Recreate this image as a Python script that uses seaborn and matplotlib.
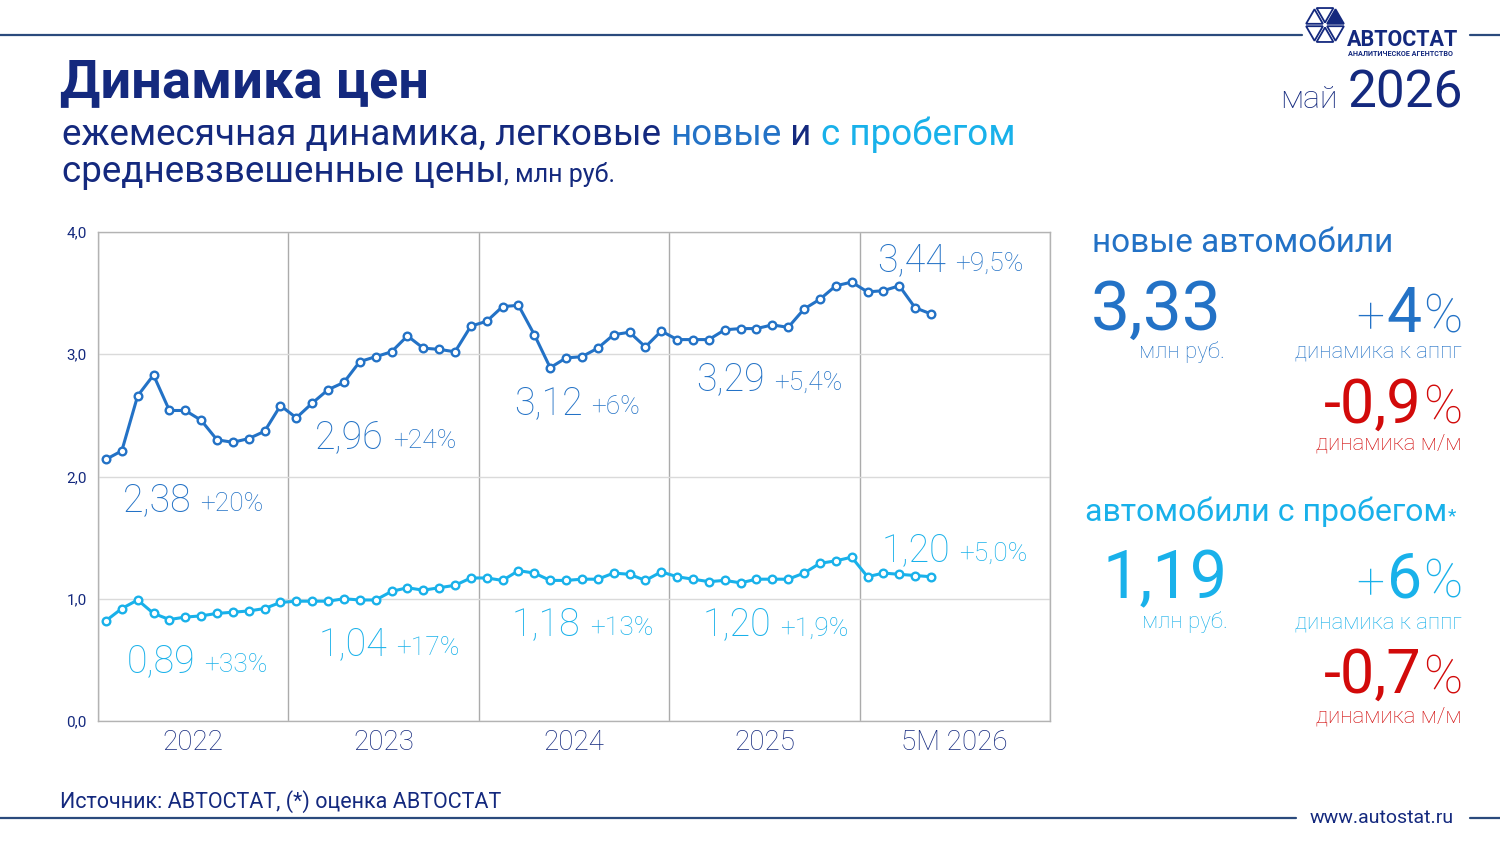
import numpy as np
import pandas as pd
import seaborn as sns
import matplotlib.pyplot as plt
from matplotlib.lines import Line2D
from matplotlib.patches import Polygon

# Data (monthly weighted average prices, mln rub)
years = ['2022', '2023', '2024', '2025', '5M 2026']
new_prices = [2.14, 2.21, 2.66, 2.83, 2.54, 2.54, 2.46, 2.30, 2.28, 2.31, 2.37, 2.58,
              2.48, 2.60, 2.71, 2.77, 2.94, 2.98, 3.02, 3.15, 3.05, 3.04, 3.02, 3.23,
              3.27, 3.39, 3.40, 3.16, 2.89, 2.97, 2.98, 3.05, 3.16, 3.18, 3.06, 3.19,
              3.12, 3.12, 3.12, 3.20, 3.21, 3.21, 3.24, 3.22, 3.37, 3.45, 3.56, 3.59,
              3.51, 3.52, 3.56, 3.38, 3.33]
used_prices = [0.82, 0.92, 0.99, 0.88, 0.83, 0.85, 0.86, 0.88, 0.89, 0.90, 0.92, 0.97,
               0.98, 0.98, 0.98, 1.00, 0.99, 0.99, 1.06, 1.09, 1.07, 1.09, 1.11, 1.17,
               1.17, 1.15, 1.23, 1.21, 1.15, 1.15, 1.16, 1.16, 1.21, 1.20, 1.15, 1.22,
               1.18, 1.16, 1.14, 1.15, 1.13, 1.16, 1.16, 1.16, 1.21, 1.29, 1.31, 1.34,
               1.18, 1.21, 1.20, 1.19, 1.18]
new_avg = ['2,38', '2,96', '3,12', '3,29', '3,44']
new_yoy = ['+20%', '+24%', '+6%', '+5,4%', '+9,5%']
used_avg = ['0,89', '1,04', '1,18', '1,20', '1,20']
used_yoy = ['+33%', '+17%', '+13%', '+1,9%', '+5,0%']
y_ticks = [0, 1, 2, 3, 4]
y_tick_labels = ['0,0', '1,0', '2,0', '3,0', '4,0']

# label anchors (data coords)
new_lab_pos = [(1.07, 1.72), (13.2, 2.23), (25.7, 2.51), (37.2, 2.71), (48.6, 3.68)]
used_lab_pos = [(1.3, 0.40), (13.4, 0.54), (25.6, 0.70), (37.6, 0.70), (48.9, 1.31)]

NAVY = '#14297e'
NEW = '#2372c6'
USED = '#19b1ea'
RED = '#d20a0a'
RULE = '#2b4a7d'

W, H = 1500, 843

df = pd.DataFrame({
    'month': np.arange(len(new_prices)),
    'new': new_prices,
    'used': used_prices,
})

sns.set_theme(style='white')
plt.rcParams['font.family'] = ['Roboto', 'DejaVu Sans']

fig = plt.figure(figsize=(15, 8.43), dpi=100)
ax = fig.add_axes([98 / W, 122 / H, 952 / W, 489 / H])

for col, c in [('new', NEW), ('used', USED)]:
    sns.lineplot(data=df, x='month', y=col, ax=ax, color=c, linewidth=2.2,
                 marker='o', markersize=5.5, markerfacecolor='white',
                 markeredgecolor=c, markeredgewidth=1.7)

ax.set_xlim(-0.5, 59.5)
ax.set_ylim(0, 4)
ax.set_xlabel('')
ax.set_ylabel('')
ax.set_yticks(y_ticks, y_tick_labels, fontsize=11, color=NAVY)
ax.set_xticks([5.5 + 12 * i for i in range(len(years))], years, fontsize=20,
              color=NAVY, fontweight='light')
ax.set_xticks([-0.5 + 12 * i for i in range(len(years) + 1)], minor=True)
ax.grid(axis='y', which='major', color='#dadada', lw=1)
ax.grid(axis='x', which='major', visible=False)
ax.grid(axis='x', which='minor', color='#ababab', lw=1)
ax.tick_params(axis='both', which='both', length=0)
ax.tick_params(axis='y', pad=8)
ax.tick_params(axis='x', pad=6)
for s in ax.spines.values():
    s.set_color('#b3b3b3')
    s.set_linewidth(1)

renderer = fig.canvas.get_renderer()


def put_parts(x, y, parts, ha='left'):
    # x, y: pixels from top-left; parts: (text, size, color, weight, gap)
    items = []
    total = 0
    for s, size, color, weight, gap in parts:
        t = fig.text(0, 0, s, fontsize=size, color=color, fontweight=weight,
                     va='baseline', ha='left')
        w = t.get_window_extent(renderer).width
        items.append((t, total))
        total += w + gap
    total -= parts[-1][4]
    start = x if ha == 'left' else x - total
    for t, off in items:
        t.set_position(((start + off) / W, 1 - y / H))


def data_px(xd, yd):
    px, py = ax.transData.transform((xd, yd))
    return px, H - py


# chart annotations
for (xd, yd), a, b in zip(new_lab_pos, new_avg, new_yoy):
    px, py = data_px(xd, yd)
    put_parts(px, py, [(a, 27, NEW, 'light', 9), (b, 19, NEW, 'light', 0)])
for (xd, yd), a, b in zip(used_lab_pos, used_avg, used_yoy):
    px, py = data_px(xd, yd)
    put_parts(px, py, [(a, 27, USED, 'light', 9), (b, 19, USED, 'light', 0)])

# title block
put_parts(60, 97, [('Динамика цен', 39, NAVY, 'bold', 0)])
put_parts(62, 145, [('ежемесячная динамика, легковые ', 26.5, NAVY, 'normal', 0),
                    ('новые', 26.5, NEW, 'normal', 0),
                    (' и ', 26.5, NAVY, 'normal', 0),
                    ('с пробегом', 26.5, USED, 'normal', 0)])
put_parts(62, 182, [('средневзвешенные цены', 26.5, NAVY, 'normal', 0),
                    (', млн руб.', 18, NAVY, 'normal', 0)])
put_parts(1463, 108, [('май', 23, NAVY, 'light', 10), ('2026', 37, NAVY, 'normal', 0)],
          ha='right')

# right panel: new cars
put_parts(1092, 252, [('новые автомобили', 24, NEW, 'normal', 0)])
put_parts(1222, 330, [('3,33', 50, NEW, 'normal', 0)], ha='right')
put_parts(1225, 358, [('млн руб.', 16, NEW, 'light', 0)], ha='right')
put_parts(1462, 332, [('+', 36, NEW, 'light', 2), ('4', 45, NEW, 'normal', 1),
                      ('%', 38, NEW, 'light', 0)], ha='right')
put_parts(1462, 358, [('динамика к аппг', 16, NEW, 'light', 0)], ha='right')
put_parts(1462, 423, [('-0,9', 44, RED, 'normal', 1), ('%', 38, RED, 'light', 0)], ha='right')
put_parts(1462, 450, [('динамика м/м', 16, RED, 'light', 0)], ha='right')

# right panel: used cars
put_parts(1085, 521, [('автомобили с пробегом', 23, USED, 'normal', 1),
                      ('*', 14, USED, 'normal', 0)])
put_parts(1228, 598, [('1,19', 48, USED, 'normal', 0)], ha='right')
put_parts(1228, 628, [('млн руб.', 16, USED, 'light', 0)], ha='right')
put_parts(1462, 598, [('+', 36, USED, 'light', 2), ('6', 45, USED, 'normal', 1),
                      ('%', 38, USED, 'light', 0)], ha='right')
put_parts(1462, 628, [('динамика к аппг', 16, USED, 'light', 0)], ha='right')
put_parts(1462, 693, [('-0,7', 44, RED, 'normal', 1), ('%', 38, RED, 'light', 0)], ha='right')
put_parts(1462, 722, [('динамика м/м', 16, RED, 'light', 0)], ha='right')

# header / footer rules
for x0, x1, y in [(0, 1302, 35), (1470, 1500, 35), (0, 1296, 818), (1470, 1500, 818)]:
    fig.add_artist(Line2D([x0 / W, x1 / W], [1 - y / H, 1 - y / H],
                          transform=fig.transFigure, color=RULE, lw=1.6))

put_parts(60, 808, [('Источник: АВТОСТАТ, (*) оценка АВТОСТАТ', 15.5, NAVY, 'normal', 0)])
put_parts(1310, 823, [('www.autostat.ru', 14, NAVY, 'normal', 0)])

# logo
cx, cy, R = 1325, 25, 21
for k in range(6):
    a0, a1 = np.radians(60 * k), np.radians(60 * (k + 1))
    pts = np.array([[cx, cy],
                    [cx + R * np.cos(a0), cy - R * np.sin(a0)],
                    [cx + R * np.cos(a1), cy - R * np.sin(a1)]])
    cen = pts.mean(axis=0)
    pts = cen + (pts - cen) * 0.8
    pts = np.column_stack([pts[:, 0] / W, 1 - pts[:, 1] / H])
    fig.add_artist(Polygon(pts, closed=True, transform=fig.transFigure,
                           facecolor=NAVY if k == 0 else 'white',
                           edgecolor=NAVY, lw=1.3))
put_parts(1347, 46, [('АВТОСТАТ', 15.5, NAVY, 'bold', 0)])
put_parts(1348, 56, [('АНАЛИТИЧЕСКОЕ АГЕНТСТВО', 5.2, NAVY, 'bold', 0)])

fig.savefig('out.png', dpi=100)
